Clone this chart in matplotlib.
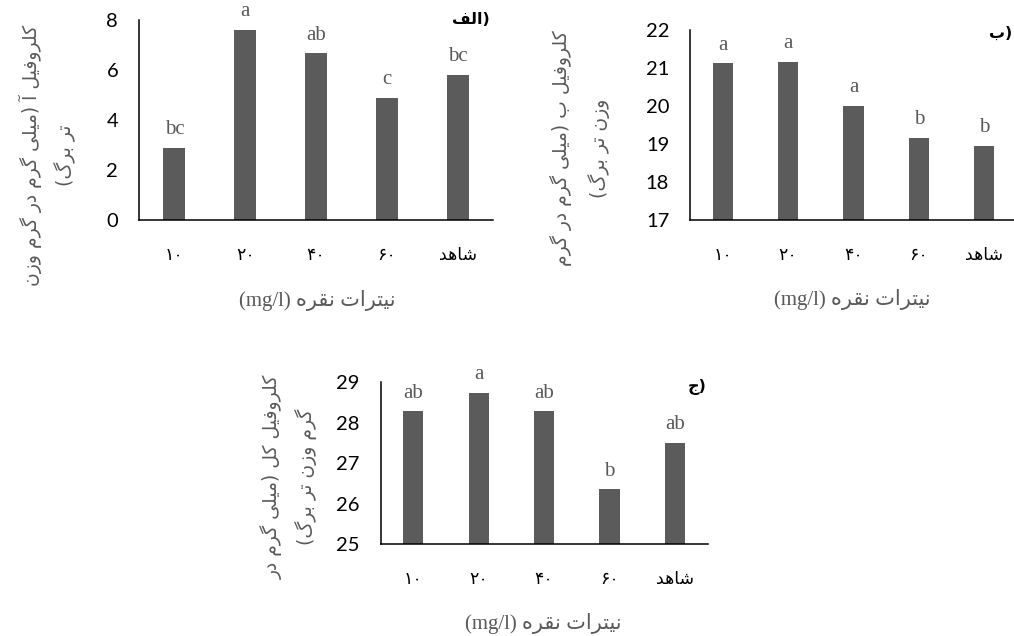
import matplotlib
matplotlib.use("Agg")
from matplotlib import pyplot as plt

# ---------------- data
cats = ['۱۰', '۲۰', '۴۰', '۶۰', 'شاهد']
chl_a = [2.89, 7.60, 6.66, 4.88, 5.79]
chl_b = [21.12, 21.16, 20.00, 19.16, 18.96]
chl_total = [28.28, 28.73, 28.28, 26.35, 27.50]
letters_a = ['bc', 'a', 'ab', 'c', 'bc']
letters_b = ['a', 'a', 'a', 'b', 'b']
letters_total = ['ab', 'a', 'ab', 'b', 'ab']
ylab_a = ['کلروفیل آ (میلی گرم در گرم وزن', 'تر برگ)']
ylab_b = ['کلروفیل ب (میلی گرم در گرم', 'وزن تر برگ)']
ylab_total = ['کلروفیل کل (میلی گرم در', 'گرم وزن تر برگ)']
xlab = 'نیترات نقره'
xunit = '(mg/l)'
panels = ['الف', 'ب', 'ج']

# ---------------- tiny persian shaper (matplotlib draws glyphs LTR, no joining)
FORMS = {
    'ا': (0xFE8D, 0xFE8E), 'آ': (0xFE81, 0xFE82), 'د': (0xFEA9, 0xFEAA),
    'ر': (0xFEAD, 0xFEAE), 'ز': (0xFEAF, 0xFEB0), 'و': (0xFEED, 0xFEEE),
    'ب': (0xFE8F, 0xFE90, 0xFE91, 0xFE92), 'ت': (0xFE95, 0xFE96, 0xFE97, 0xFE98),
    'ج': (0xFE9D, 0xFE9E, 0xFE9F, 0xFEA0), 'ش': (0xFEB5, 0xFEB6, 0xFEB7, 0xFEB8),
    'ف': (0xFED1, 0xFED2, 0xFED3, 0xFED4), 'ق': (0xFED5, 0xFED6, 0xFED7, 0xFED8),
    'ل': (0xFEDD, 0xFEDE, 0xFEDF, 0xFEE0), 'م': (0xFEE1, 0xFEE2, 0xFEE3, 0xFEE4),
    'ن': (0xFEE5, 0xFEE6, 0xFEE7, 0xFEE8), 'ه': (0xFEE9, 0xFEEA, 0xFEEB, 0xFEEC),
    'ک': (0xFB8E, 0xFB8F, 0xFB90, 0xFB91), 'گ': (0xFB92, 0xFB93, 0xFB94, 0xFB95),
    'ی': (0xFBFC, 0xFBFD, 0xFBFE, 0xFBFF),
}


def fa(s):
    out = []
    for i, c in enumerate(s):
        if c not in FORMS:
            out.append(c)
            continue
        f = FORMS[c]
        prev = s[i - 1] if i > 0 else ''
        nxt = s[i + 1] if i + 1 < len(s) else ''
        jp = prev in FORMS and len(FORMS[prev]) == 4
        jn = len(f) == 4 and nxt in FORMS
        if jp and jn:
            g = f[3]
        elif jp:
            g = f[1]
        elif jn:
            g = f[2]
        else:
            g = f[0]
        out.append(chr(g))
    vis = ''.join(reversed(out))
    return vis.translate(str.maketrans('()', ')('))


AR = ['DejaVu Sans']
GREY = '#595959'
BAR = '#5b5b5b'

fig = plt.figure(figsize=(10.14, 6.36), dpi=100)


def panel(rect, vals, letters, ylim, yticks, ylab, ylab_xy, xlab_xy, tag, tag_xy, lsp):
    ax = fig.add_axes(rect)
    x = range(len(vals))
    ax.bar(x, vals, width=0.31, color=BAR)
    ax.set_xlim(-0.5, 4.5)
    ax.set_ylim(*ylim)
    ax.set_yticks(yticks)
    ax.set_yticklabels([str(v) for v in yticks], family='Lato', fontsize=14.5)
    ax.set_xticks(list(x))
    ax.set_xticklabels([c if c[0].isdigit() else fa(c) for c in cats], family=AR, fontsize=12.5)
    ax.tick_params(axis='y', length=0, pad=15)
    ax.tick_params(axis='x', length=0, pad=19)
    for s in ['top', 'right']:
        ax.spines[s].set_visible(False)
    for s in ['left', 'bottom']:
        ax.spines[s].set_linewidth(1.1)
    for i, (v, l) in enumerate(zip(vals, letters)):
        ax.annotate(l, (i, v), xytext=(0, 10), textcoords='offset points', ha='center',
                    va='baseline', family='Liberation Serif', fontsize=15, color=GREY)
    ax.text(ylab_xy[0], ylab_xy[1], fa(ylab[0]) + '\n' + fa(ylab[1]), transform=ax.transAxes,
            rotation=90, ha='center', va='center', multialignment='center',
            family=AR, fontsize=13.5, color=GREY, linespacing=lsp)
    ax.text(xlab_xy[0], xlab_xy[1], xunit + ' ' + fa(xlab), transform=ax.transAxes,
            ha='center', va='center', family=['Liberation Serif', 'DejaVu Sans'],
            fontsize=15, color=GREY)
    ax.text(tag_xy[0], tag_xy[1], fa(tag) + ')', transform=ax.transAxes, ha='right',
            va='center', family=AR, fontsize=11.5, fontweight='bold', color='black')
    return ax


panel([0.1371, 0.6541, 0.3491, 0.3145], chl_a, letters_a, (0, 8), [0, 2, 4, 6, 8],
      ylab_a, (-0.258, 0.325), (0.503, -0.40), panels[0], (0.99, 1.0), 1.75)
panel([0.6805, 0.6541, 0.3225, 0.2987], chl_b, letters_b, (17, 22), [17, 18, 19, 20, 21, 22],
      ylab_b, (-0.336, 0.379), (0.495, -0.421), panels[1], (0.985, 0.984), 1.95)
panel([0.3754, 0.1447, 0.3225, 0.2542], chl_total, letters_total, (25, 29), [25, 26, 27, 28, 29],
      ylab_total, (-0.280, 0.414), (0.496, -0.489), panels[2], (0.998, 0.973), 1.75)

plt.savefig("out.png", dpi=100)
